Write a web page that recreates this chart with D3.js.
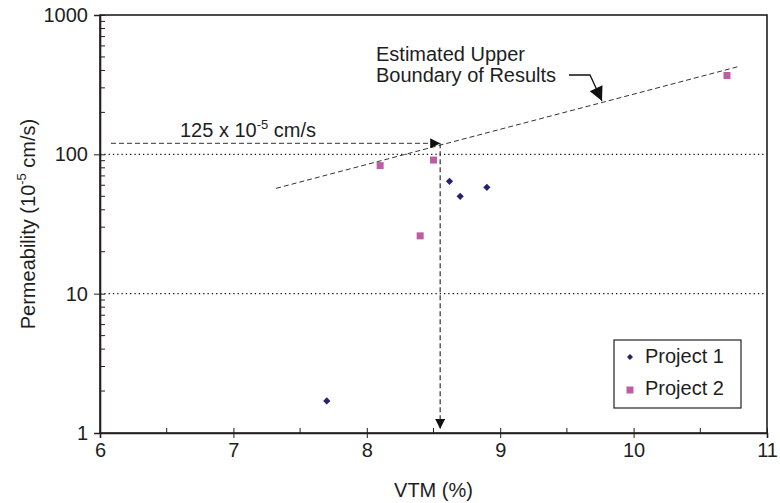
<!DOCTYPE html>
<html>
<head>
<meta charset="utf-8">
<script src="https://cdn.jsdelivr.net/npm/d3@7"></script>
<style>
  html, body { margin: 0; padding: 0; background: #fff; }
  svg { display: block; font-family: Arial, "Liberation Sans", Helvetica, sans-serif; }
</style>
</head>
<body>
<svg id="chart" width="780" height="503"></svg>
<script>
// Permeability vs. VTM measurements
const project1X = [7.7, 8.62, 8.7, 8.9];
const project1Y = [1.7, 64, 50, 58];
const project2X = [8.1, 8.5, 8.4, 10.7];
const project2Y = [83, 91, 26, 368];

// Estimated upper boundary (end points)
const boundaryX = [7.32, 10.78];
const boundaryY = [57, 425];

// Threshold reading
const thresholdX = 8.55;
const thresholdY = 120;

const xTicks = [6, 7, 8, 9, 10, 11];
const yTicks = [1, 10, 100, 1000];
const gridY = [10, 100];

const svg = d3.select("#chart");
const plotL = 100, plotR = 767, plotT = 15, plotB = 433;
const FONT = "Arial, 'Liberation Sans', Helvetica, sans-serif";
const FS = 20;

const x = d3.scaleLinear().domain([6, 11]).range([plotL, plotR]);
const y = d3.scaleLog().domain([1, 1000]).range([plotB, plotT]);

const axisColor = "#231f20";
const textColor = "#1e1e1e";

// Arrowhead markers
const defs = svg.append("defs");
defs.append("marker")
  .attr("id", "tri")
  .attr("viewBox", "0 0 10 10")
  .attr("refX", 10).attr("refY", 5)
  .attr("markerWidth", 10).attr("markerHeight", 10)
  .attr("markerUnits", "userSpaceOnUse")
  .attr("orient", "auto")
  .append("path").attr("d", "M0,0 L10,5 L0,10 Z").attr("fill", "#111");
defs.append("marker")
  .attr("id", "tri2")
  .attr("viewBox", "0 0 10 10")
  .attr("refX", 10).attr("refY", 5)
  .attr("markerWidth", 16).attr("markerHeight", 14)
  .attr("markerUnits", "userSpaceOnUse")
  .attr("orient", "auto")
  .append("path").attr("d", "M0,0 L10,5 L0,10 Z").attr("fill", "#111");

// Dotted gridlines
svg.append("g").selectAll("line").data(gridY).join("line")
  .attr("x1", plotL).attr("x2", plotR)
  .attr("y1", d => y(d)).attr("y2", d => y(d))
  .attr("stroke", "#111").attr("stroke-width", 1.2)
  .attr("stroke-dasharray", "1.3,3");

// Plot frame
svg.append("rect")
  .attr("x", plotL).attr("y", plotT)
  .attr("width", plotR - plotL).attr("height", plotB - plotT)
  .attr("fill", "none").attr("stroke", axisColor).attr("stroke-width", 1.6);

// X axis
const xAxis = svg.append("g").attr("transform", `translate(0,${plotB})`);
xAxis.call(d3.axisBottom(x).tickValues(xTicks).tickFormat(d3.format("d")).tickSize(5).tickPadding(5));
xAxis.select(".domain").attr("stroke", axisColor).attr("stroke-width", 1.6);
xAxis.selectAll(".tick line").attr("stroke", axisColor).attr("y1", -5).attr("y2", 5);
xAxis.selectAll("text").attr("font-size", FS).attr("fill", textColor).attr("font-family", FONT);
// minor x ticks at half units
svg.append("g").selectAll("line").data(d3.range(6.5, 11, 1)).join("line")
  .attr("x1", d => x(d)).attr("x2", d => x(d))
  .attr("y1", plotB - 5).attr("y2", plotB)
  .attr("stroke", axisColor);

// Y axis
const yAxis = svg.append("g").attr("transform", `translate(${plotL},0)`);
yAxis.call(d3.axisLeft(y).tickValues(yTicks).tickFormat(d3.format("d")).tickSize(6).tickPadding(6));
yAxis.select(".domain").attr("stroke", axisColor).attr("stroke-width", 1.6);
yAxis.selectAll(".tick line").attr("stroke", axisColor).attr("x1", -6).attr("x2", 5);
yAxis.selectAll("text").attr("font-size", FS).attr("fill", textColor).attr("font-family", FONT);
// minor y ticks inside
const minorY = [];
[1, 10, 100].forEach(b => { for (let k = 2; k <= 9; k++) minorY.push(b * k); });
svg.append("g").selectAll("line").data(minorY).join("line")
  .attr("x1", plotL).attr("x2", plotL + 5)
  .attr("y1", d => y(d)).attr("y2", d => y(d))
  .attr("stroke", axisColor);

// Axis titles
svg.append("text")
  .attr("x", x(8.5)).attr("y", 497)
  .attr("text-anchor", "middle").attr("font-size", FS).attr("fill", textColor)
  .text("VTM (%)");
const yt = svg.append("text")
  .attr("transform", `translate(35,${(plotT + plotB) / 2}) rotate(-90)`)
  .attr("text-anchor", "middle").attr("font-size", FS).attr("fill", textColor);
yt.append("tspan").text("Permeability (10");
yt.append("tspan").attr("dy", -9).attr("font-size", 13).text("-5");
yt.append("tspan").attr("dy", 9).text(" cm/s)");

// Upper boundary line
svg.append("line")
  .attr("x1", x(boundaryX[0])).attr("y1", y(boundaryY[0]))
  .attr("x2", x(boundaryX[1])).attr("y2", y(boundaryY[1]))
  .attr("stroke", "#333").attr("stroke-width", 1).attr("stroke-dasharray", "5,3");

// Threshold arrows
svg.append("line")
  .attr("x1", plotL + 11).attr("y1", y(thresholdY))
  .attr("x2", x(thresholdX)).attr("y2", y(thresholdY))
  .attr("stroke", "#333").attr("stroke-width", 1).attr("stroke-dasharray", "5,3")
  .attr("marker-end", "url(#tri)");
svg.append("line")
  .attr("x1", x(thresholdX)).attr("y1", y(thresholdY))
  .attr("x2", x(thresholdX)).attr("y2", plotB - 4)
  .attr("stroke", "#333").attr("stroke-width", 1.2).attr("stroke-dasharray", "5,3")
  .attr("marker-end", "url(#tri)");

// Threshold label
const tl = svg.append("text")
  .attr("x", 180).attr("y", 137)
  .attr("font-size", FS).attr("fill", textColor);
tl.append("tspan").text("125 x 10");
tl.append("tspan").attr("dy", -8).attr("font-size", 13).text("-5");
tl.append("tspan").attr("dy", 8).text(" cm/s");

// Boundary label and pointer
svg.append("text").attr("x", 376).attr("y", 61).attr("font-size", FS).attr("fill", textColor)
  .text("Estimated Upper");
svg.append("text").attr("x", 376).attr("y", 82).attr("font-size", FS).attr("fill", textColor)
  .text("Boundary of Results");
svg.append("path")
  .attr("d", `M569,75 L590,75 L602,101`)
  .attr("fill", "none").attr("stroke", "#111").attr("stroke-width", 1.3)
  .attr("marker-end", "url(#tri2)");

// Data markers
const p1 = project1X.map((v, i) => [v, project1Y[i]]);
const p2 = project2X.map((v, i) => [v, project2Y[i]]);

svg.append("g").selectAll("path").data(p1).join("path")
  .attr("transform", d => `translate(${x(d[0])},${y(d[1])})`)
  .attr("d", "M0,-3.6 L3.6,0 L0,3.6 L-3.6,0 Z")
  .attr("fill", "#26226e");

svg.append("g").selectAll("rect").data(p2).join("rect")
  .attr("x", d => x(d[0]) - 3.5).attr("y", d => y(d[1]) - 3.5)
  .attr("width", 7).attr("height", 7)
  .attr("fill", "#bd5ea2");

// Legend
const lg = svg.append("g").attr("transform", "translate(614,340)");
lg.append("rect").attr("width", 127).attr("height", 68)
  .attr("fill", "#fff").attr("stroke", "#222").attr("stroke-width", 1.2);
lg.append("path").attr("transform", "translate(16,17)")
  .attr("d", "M0,-3 L3,0 L0,3 L-3,0 Z").attr("fill", "#26226e");
lg.append("rect").attr("x", 12.5).attr("y", 46.5).attr("width", 7).attr("height", 7).attr("fill", "#bd5ea2");
lg.append("text").attr("x", 31).attr("y", 23).attr("font-size", FS).attr("fill", textColor).text("Project 1");
lg.append("text").attr("x", 31).attr("y", 55).attr("font-size", FS).attr("fill", textColor).text("Project 2");
</script>
</body>
</html>
